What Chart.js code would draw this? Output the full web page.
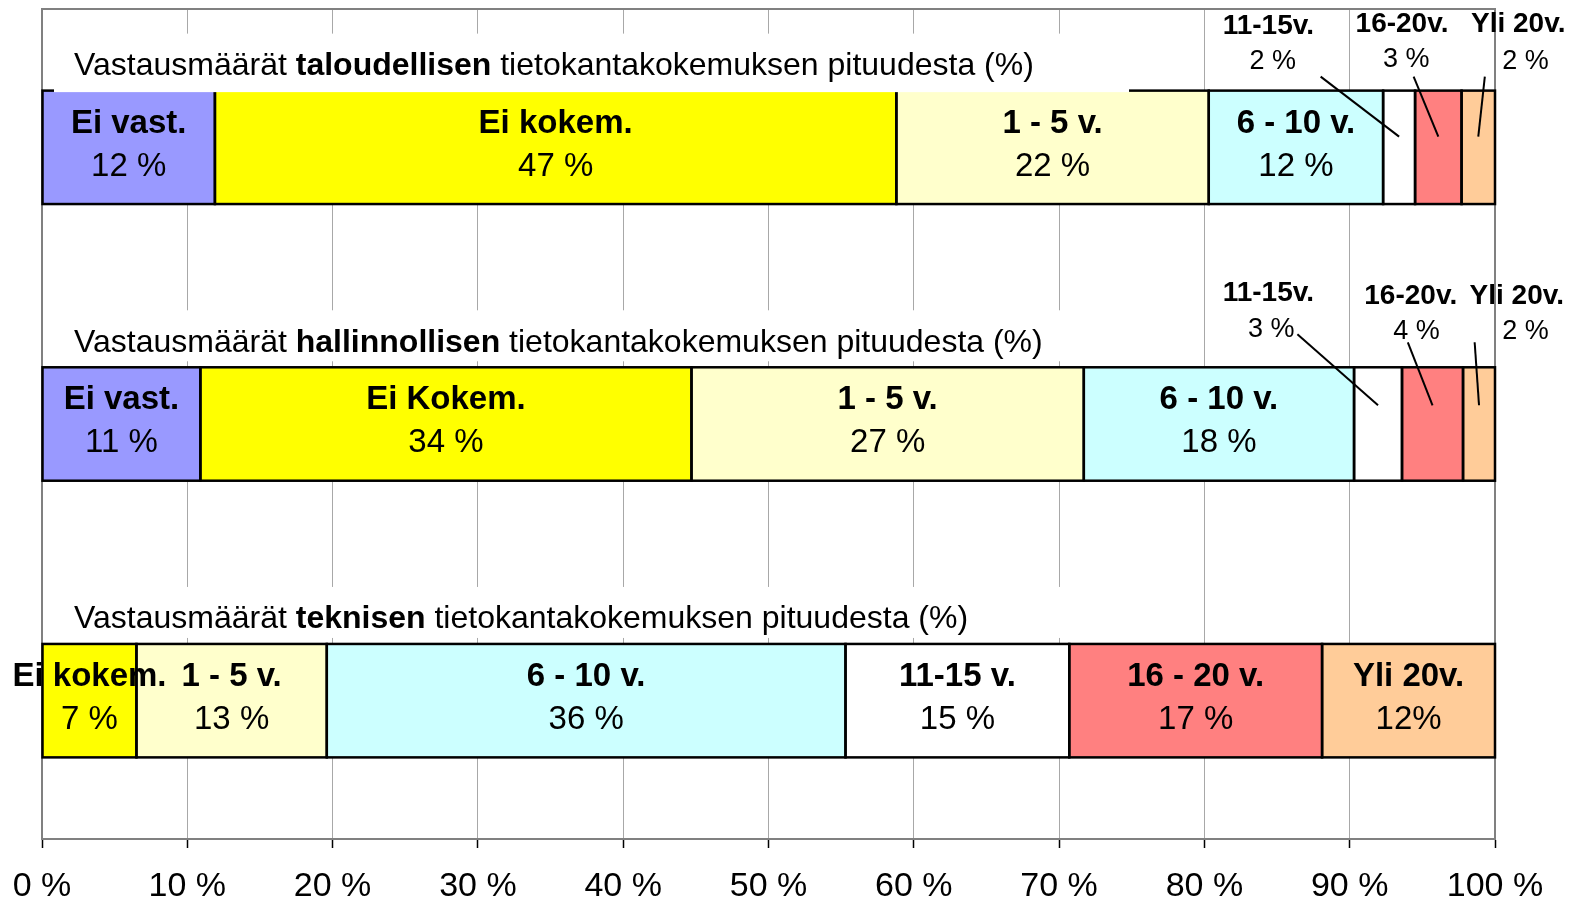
<!DOCTYPE html>
<html>
<head>
<meta charset="utf-8">
<script src="https://cdn.jsdelivr.net/npm/chart.js@4.4.1/dist/chart.umd.min.js"></script>
<style>
  html, body { margin: 0; padding: 0; background: #fff; }
  canvas { display: block; }
</style>
</head>
<body>
<canvas id="c" width="1583" height="900"></canvas>
<script>
// ---------------- DATA ----------------
const categories = ['taloudellisen', 'hallinnollisen', 'teknisen'];
const titlePrefix = 'Vastausmäärät ';
const titleSuffix = ' tietokantakokemuksen pituudesta (%)';

const seriesNames = ['Ei vast.', 'Ei kokem.', '1 - 5 v.', '6 - 10 v.', '11-15 v.', '16-20 v.', 'Yli 20 v.'];
const eiVast  = [11.9, 10.9, null];
const eiKokem = [46.9, 33.8, 6.5];
const v1to5   = [21.5, 27.0, 13.1];
const v6to10  = [12.0, 18.6, 35.7];
const v11to15 = [2.2, 3.3, 15.4];
const v16to20 = [3.2, 4.2, 17.4];
const yli20   = [2.3, 2.2, 11.9];

// segment texts as printed in the chart (per bar, per series)
const nameLabels = [
  ['Ei vast.', 'Ei kokem.', '1 - 5 v.', '6 - 10 v.', '11-15v.', '16-20v.', 'Yli 20v.'],
  ['Ei vast.', 'Ei Kokem.', '1 - 5 v.', '6 - 10 v.', '11-15v.', '16-20v.', 'Yli 20v.'],
  [null, 'Ei kokem.', '1 - 5 v.', '6 - 10 v.', '11-15 v.', '16 - 20 v.', 'Yli 20v.']
];
const pctLabels = [
  ['12 %', '47 %', '22 %', '12 %', '2 %', '3 %', '2 %'],
  ['11 %', '34 %', '27 %', '18 %', '3 %', '4 %', '2 %'],
  [null, '7 %', '13 %', '36 %', '15 %', '17 %', '12%']
];
const tickStep = 10;
const tickSuffix = ' %';

// ---------------- STYLE / LAYOUT ----------------
const colors = ['#9999FF', '#FFFF00', '#FFFFCC', '#CCFFFF', '#FFFFFF', '#FF8080', '#FFCC99'];
const FONT = '"Liberation Sans", Arial, sans-serif';

// segments whose labels are placed outside (above) the bar, with leader lines
// x in axis units, dy in px from bar top
const outside = [
  {bar: 0, s: 4, nx: 84.4, px: 84.7, ny: -67, py: -31, lx: 88.0, ly: -14, ey: 46},
  {bar: 0, s: 5, nx: 93.6, px: 93.9, ny: -69, py: -33, lx: 94.4, ly: -14, ey: 46},
  {bar: 0, s: 6, nx: 101.6, px: 102.1, ny: -69, py: -31, lx: 99.3, ly: -14, ey: 46},
  {bar: 1, s: 4, nx: 84.4, px: 84.6, ny: -76, py: -40, lx: 86.4, ly: -33, ey: 38},
  {bar: 1, s: 5, nx: 94.2, px: 94.6, ny: -73, py: -38, lx: 94.0, ly: -25, ey: 38},
  {bar: 1, s: 6, nx: 101.5, px: 102.1, ny: -73, py: -38, lx: 98.6, ly: -25, ey: 38}
];

const series = [eiVast, eiKokem, v1to5, v6to10, v11to15, v16to20, yli20];

const overlayPlugin = {
  id: 'overlay',
  beforeDatasetsDraw(chart) {
    const ctx = chart.ctx, a = chart.chartArea;
    ctx.save();
    ctx.strokeStyle = '#808080';
    ctx.lineWidth = 2;
    ctx.beginPath();
    ctx.moveTo(a.left, a.bottom);
    ctx.lineTo(a.left, a.top);
    ctx.lineTo(a.right, a.top);
    ctx.lineTo(a.right, a.bottom);
    ctx.stroke();
    ctx.restore();
  },
  afterDatasetsDraw(chart) {
    const ctx = chart.ctx, a = chart.chartArea;
    const xs = chart.scales.x;
    const rects = [];
    ctx.save();
    // outlines
    ctx.strokeStyle = '#000';
    ctx.lineWidth = 2.5;
    series.forEach((d, i) => {
      const meta = chart.getDatasetMeta(i);
      meta.data.forEach((el, j) => {
        if (d[j] == null) return;
        const p = el.getProps(['x', 'y', 'base', 'height'], true);
        const l = Math.min(p.x, p.base), r = Math.max(p.x, p.base);
        const t = p.y - p.height / 2;
        rects[j] = rects[j] || [];
        rects[j][i] = {l, r, t, b: t + p.height, cx: (l + r) / 2, cy: p.y, h: p.height};
        ctx.strokeRect(l, t, r - l, p.height);
      });
    });
    // title boxes + titles
    categories.forEach((c, j) => {
      const row = rects[j].filter(Boolean);
      const top = row[0].t;
      ctx.fillStyle = '#fff';
      const bottom = j === 0 ? top + 1.5 : top - 6;
      ctx.fillRect(a.left + 12, top - 57, 1129 - (a.left + 12), bottom - (top - 57));
      ctx.fillStyle = '#000';
      ctx.textAlign = 'left';
      ctx.textBaseline = 'alphabetic';
      const base = top - 27 + 0.358 * 32;
      let x = a.left + 32;
      ctx.font = '32px ' + FONT;
      ctx.fillText(titlePrefix, x, base);
      x += ctx.measureText(titlePrefix).width;
      ctx.font = 'bold 32px ' + FONT;
      ctx.fillText(c, x, base);
      x += ctx.measureText(c).width;
      ctx.font = '32px ' + FONT;
      ctx.fillText(titleSuffix, x, base);
    });
    // in-bar labels
    ctx.textAlign = 'center';
    const isOutside = (j, i) => outside.some(o => o.bar === j && o.s === i);
    rects.forEach((row, j) => {
      row.forEach((r, i) => {
        if (!r || isOutside(j, i)) return;
        ctx.fillStyle = '#000';
        if (nameLabels[j][i]) {
          ctx.font = 'bold 33px ' + FONT;
          ctx.fillText(nameLabels[j][i], r.cx, r.cy - 26.5 + 0.358 * 33);
        }
        if (pctLabels[j][i]) {
          ctx.font = '33px ' + FONT;
          ctx.fillText(pctLabels[j][i], r.cx, r.cy + 16.5 + 0.358 * 33);
        }
      });
    });
    // outside labels with leader lines
    outside.forEach(o => {
      const r = rects[o.bar][o.s];
      ctx.fillStyle = '#000';
      ctx.font = 'bold 28px ' + FONT;
      ctx.fillText(nameLabels[o.bar][o.s], xs.getPixelForValue(o.nx), r.t + o.ny + 0.358 * 28);
      ctx.font = '27px ' + FONT;
      ctx.fillText(pctLabels[o.bar][o.s], xs.getPixelForValue(o.px), r.t + o.py + 0.358 * 27);
      ctx.strokeStyle = '#000';
      ctx.lineWidth = 2;
      ctx.beginPath();
      ctx.moveTo(xs.getPixelForValue(o.lx), r.t + o.ly);
      ctx.lineTo(r.cx, r.t + o.ey);
      ctx.stroke();
    });
    ctx.restore();
  }
};

new Chart(document.getElementById('c'), {
  type: 'bar',
  data: {
    labels: categories,
    datasets: series.map((d, i) => ({
      label: seriesNames[i],
      data: d,
      backgroundColor: colors[i],
      borderWidth: 0,
      categoryPercentage: 1,
      barPercentage: 0.41
    }))
  },
  options: {
    indexAxis: 'y',
    responsive: false,
    animation: false,
    layout: {padding: {left: 42, right: 88, top: 9, bottom: 0}},
    plugins: {legend: {display: false}, tooltip: {enabled: false}},
    scales: {
      x: {
        stacked: true,
        min: 0,
        max: 100,
        ticks: {
          stepSize: tickStep,
          callback: v => v + tickSuffix,
          color: '#000',
          font: {family: FONT, size: 34},
          padding: 18,
          maxRotation: 0
        },
        grid: {color: '#A8A8A8', lineWidth: 1, tickLength: 9, tickColor: '#000', tickWidth: 1.5},
        border: {color: '#808080', width: 2},
        afterFit: s => { s.height = 61; s.paddingLeft = 0; s.paddingRight = 0; }
      },
      y: {stacked: true, display: false}
    }
  },
  plugins: [overlayPlugin]
});
</script>
</body>
</html>
